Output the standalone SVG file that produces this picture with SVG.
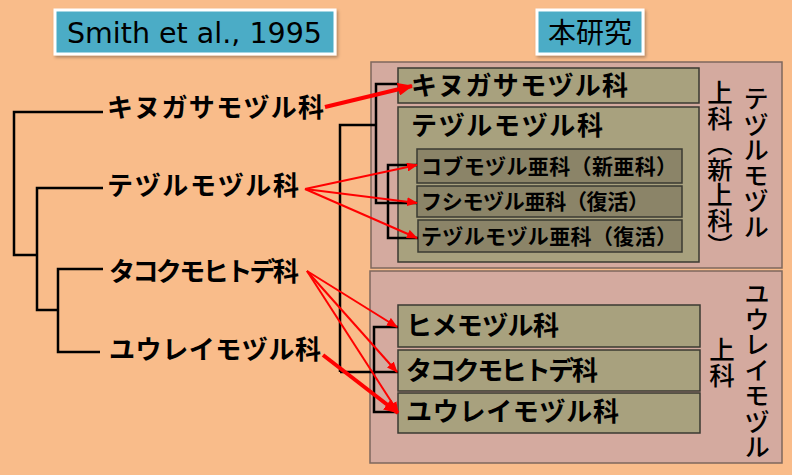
<svg xmlns="http://www.w3.org/2000/svg" width="792" height="475" viewBox="0 0 792 475">
<defs>
<style>
.jp{font-family:"Noto Sans CJK JP","Noto Sans",sans-serif;fill:#000;}
.lbl{font-size:26px;font-weight:bold;}
.sub{font-size:21px;font-weight:bold;}
.vt{font-size:25.5px;writing-mode:vertical-rl;font-weight:500;}
.pink{fill:#D4AA9F;stroke:#7E675D;stroke-width:1.5;}
.khaki{fill:#A8A17E;stroke:#3A3A32;stroke-width:1.5;}
.dk{fill:#8B8468;stroke:#3A3A32;stroke-width:1.5;}
.hdr{fill:#4BACC6;stroke:#FFFFFF;stroke-width:3;}
.tree{fill:none;stroke:#000;stroke-width:2.5;stroke-linejoin:miter;}
.red{fill:none;stroke:#FF0000;}
</style>
<filter id="sh" x="-10%" y="-20%" width="130%" height="150%">
<feDropShadow dx="1.5" dy="2" stdDeviation="1.5" flood-color="#000" flood-opacity="0.3"/>
</filter>
<marker id="ah" markerUnits="userSpaceOnUse" markerWidth="11" markerHeight="9" refX="10" refY="4.5" orient="auto">
<path d="M0,0 L11,4.5 L0,9 z" fill="#FF0000"/>
</marker>
<marker id="ahb" markerUnits="userSpaceOnUse" markerWidth="15" markerHeight="13" refX="14" refY="6.5" orient="auto">
<path d="M0,0 L15,6.5 L0,13 z" fill="#FF0000"/>
</marker>
</defs>
<rect x="0" y="0" width="792" height="475" fill="#F9BC8A"/>

<g id="hdr-smith">
<rect class="hdr" x="55" y="10" width="280" height="44" filter="url(#sh)"/>
<text x="67" y="43" font-family="DejaVu Sans,Verdana,sans-serif" font-size="28.5" fill="#000">Smith et al., 1995</text>
</g>
<g id="hdr-this">
<rect class="hdr" x="537" y="10" width="106" height="44" filter="url(#sh)"/>
<text class="jp" x="590" y="43" font-size="28" text-anchor="middle">本研究</text>
</g>

<g id="box-tezuru-super">
<rect class="pink" x="371" y="62" width="411" height="206"/>
<text class="jp vt" x="720" y="80" font-size="24">上科（新上科）</text>
<text class="jp vt" x="756" y="86">テヅルモヅル</text>
</g>
<g id="box-yurei-super">
<rect class="pink" x="370" y="271" width="412" height="192"/>
<text class="jp vt" x="757" y="281" font-size="24.8">ユウレイモヅル</text>
<text class="jp vt" x="722" y="337" font-size="27">上科</text>
</g>

<g id="r-kinugasa">
<rect class="khaki" x="398" y="68" width="301" height="35"/>
<text class="jp lbl" x="411" y="95" textLength="217">キヌガサモヅル科</text>
</g>
<g id="r-tezuru">
<rect class="khaki" x="398" y="107" width="301" height="155"/>
<text class="jp lbl" x="411" y="135" textLength="192">テヅルモヅル科</text>
</g>
<g id="r-kobu">
<rect class="dk" x="417" y="149" width="265" height="34"/>
<text class="jp sub" x="421" y="174" textLength="256">コブモヅル亜科（新亜科）</text>
</g>
<g id="r-fushi">
<rect class="dk" x="417" y="186" width="265" height="31"/>
<text class="jp sub" x="421" y="209" textLength="228">フシモヅル亜科（復活）</text>
</g>
<g id="r-tezuru-sub">
<rect class="dk" x="418" y="220" width="264" height="32"/>
<text class="jp sub" x="421" y="244" textLength="256">テヅルモヅル亜科（復活）</text>
</g>
<g id="r-hime">
<rect class="khaki" x="398" y="305" width="302" height="42"/>
<text class="jp lbl" x="406" y="335" textLength="153">ヒメモヅル科</text>
</g>
<g id="r-tako">
<rect class="khaki" x="398" y="350" width="302" height="41"/>
<text class="jp lbl" x="406" y="380" textLength="192">タコクモヒトデ科</text>
</g>
<g id="r-yurei">
<rect class="khaki" x="398" y="393" width="302" height="40"/>
<text class="jp lbl" x="406" y="421" textLength="213">ユウレイモヅル科</text>
</g>

<g id="l-kinugasa"><text class="jp lbl" x="107" y="117" textLength="217">キヌガサモヅル科</text></g>
<g id="l-tezuru"><text class="jp lbl" x="107" y="195" textLength="192">テヅルモヅル科</text></g>
<g id="l-tako"><text class="jp lbl" x="109" y="281" textLength="190">タコクモヒトデ科</text></g>
<g id="l-yurei"><text class="jp lbl" x="109" y="359" textLength="212">ユウレイモヅル科</text></g>

<g id="connectors">
<path class="tree" d="M103,112 H14 V255 H37"/>
<path class="tree" d="M103,188 H37 V310 H58"/>
<path class="tree" d="M103,269 H58 V352 H100"/>
<path class="tree" d="M340,372 V125 H376"/>
<path class="tree" d="M398,84 H376 V203 H417"/>
<path class="tree" d="M417,165 H388 V238 H418"/>
<path class="tree" d="M340,372 H398"/>
<path class="tree" d="M398,327 H374 V412 H398"/>

<line class="red" x1="325" y1="107" x2="412" y2="86" stroke-width="4" marker-end="url(#ahb)"/>
<line class="red" x1="305" y1="189" x2="417" y2="165" stroke-width="2" marker-end="url(#ah)"/>
<line class="red" x1="305" y1="189" x2="417" y2="203" stroke-width="2" marker-end="url(#ah)"/>
<line class="red" x1="305" y1="189" x2="417" y2="238" stroke-width="2" marker-end="url(#ah)"/>
<line class="red" x1="307" y1="271" x2="397" y2="327" stroke-width="2" marker-end="url(#ah)"/>
<line class="red" x1="307" y1="271" x2="397" y2="372" stroke-width="2" marker-end="url(#ah)"/>
<line class="red" x1="307" y1="271" x2="398" y2="412" stroke-width="2" marker-end="url(#ah)"/>
<line class="red" x1="323" y1="355" x2="398" y2="413" stroke-width="4" marker-end="url(#ahb)"/>
</g>
</svg>
